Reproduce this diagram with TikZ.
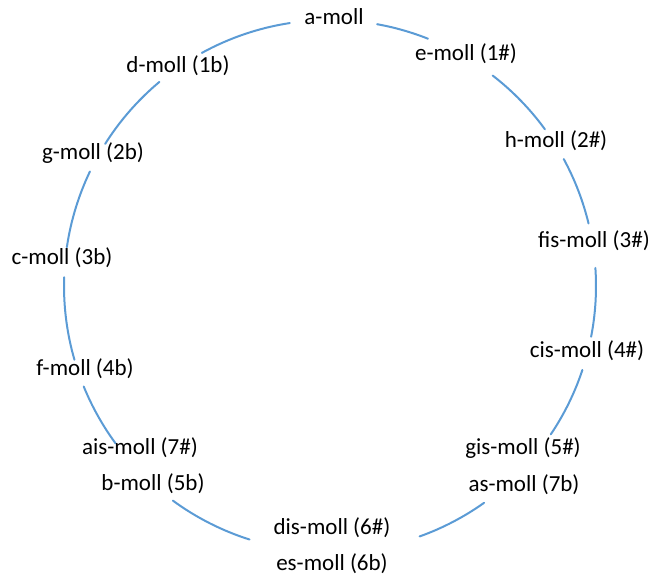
\documentclass[tikz,border=0pt]{standalone}
\usepackage{fontspec}
\setmainfont{Carlito}
\usepackage{tikz}
\definecolor{ringBlue}{RGB}{91,155,213}

\begin{document}
\begin{tikzpicture}[x=1pt, y=1pt, line cap=round,
  key/.style={font=\fontsize{23}{27}\selectfont, inner sep=0pt, text height=0.75em, text depth=0.25em},
  ring/.style={ringBlue, line width=2pt}]
\useasboundingbox (0,0) rectangle (655,581);
\coordinate (O) at (330,295);
\foreach \s/\e in {68.4/79.8, 36.1/52.3, 13.6/28.5, -11/3.9, -33.9/-18.4, -70.3/-54.6,
  -126.2/-107.6, -157.8/-143.7, 178.1/196.1, 154.5/171.6, 129.9/147.7, 98.7/118.8}
  \draw[ring] (O) ++(\s:266) arc[start angle=\s, end angle=\e, radius=266];
\node[key] (amoll) at (334,559) {a-moll};
\node[key] (emoll) at (466,523) {e-moll (1\#)};
\node[key] (dmoll) at (178,511) {d-moll (1b)};
\node[key] (hmoll) at (556,436) {h-moll (2\#)};
\node[key] (gmoll) at (93,424) {g-moll (2b)};
\node[key] (fismoll) at (594,336) {fis-moll (3\#)};
\node[key] (cmoll) at (62,319) {c-moll (3b)};
\node[key] (cismoll) at (587,226) {cis-moll (4\#)};
\node[key] (fmoll) at (85,208) {f-moll (4b)};
\node[key] (gismoll) at (523,129) {gis-moll (5\#)};
\node[key] (asmoll) at (524,92) {as-moll (7b)};
\node[key] (aismoll) at (140,129) {ais-moll (7\#)};
\node[key] (bmoll) at (153,93) {b-moll (5b)};
\node[key] (dismoll) at (332,49) {dis-moll (6\#)};
\node[key] (esmoll) at (332,13) {es-moll (6b)};
\end{tikzpicture}
\end{document}
